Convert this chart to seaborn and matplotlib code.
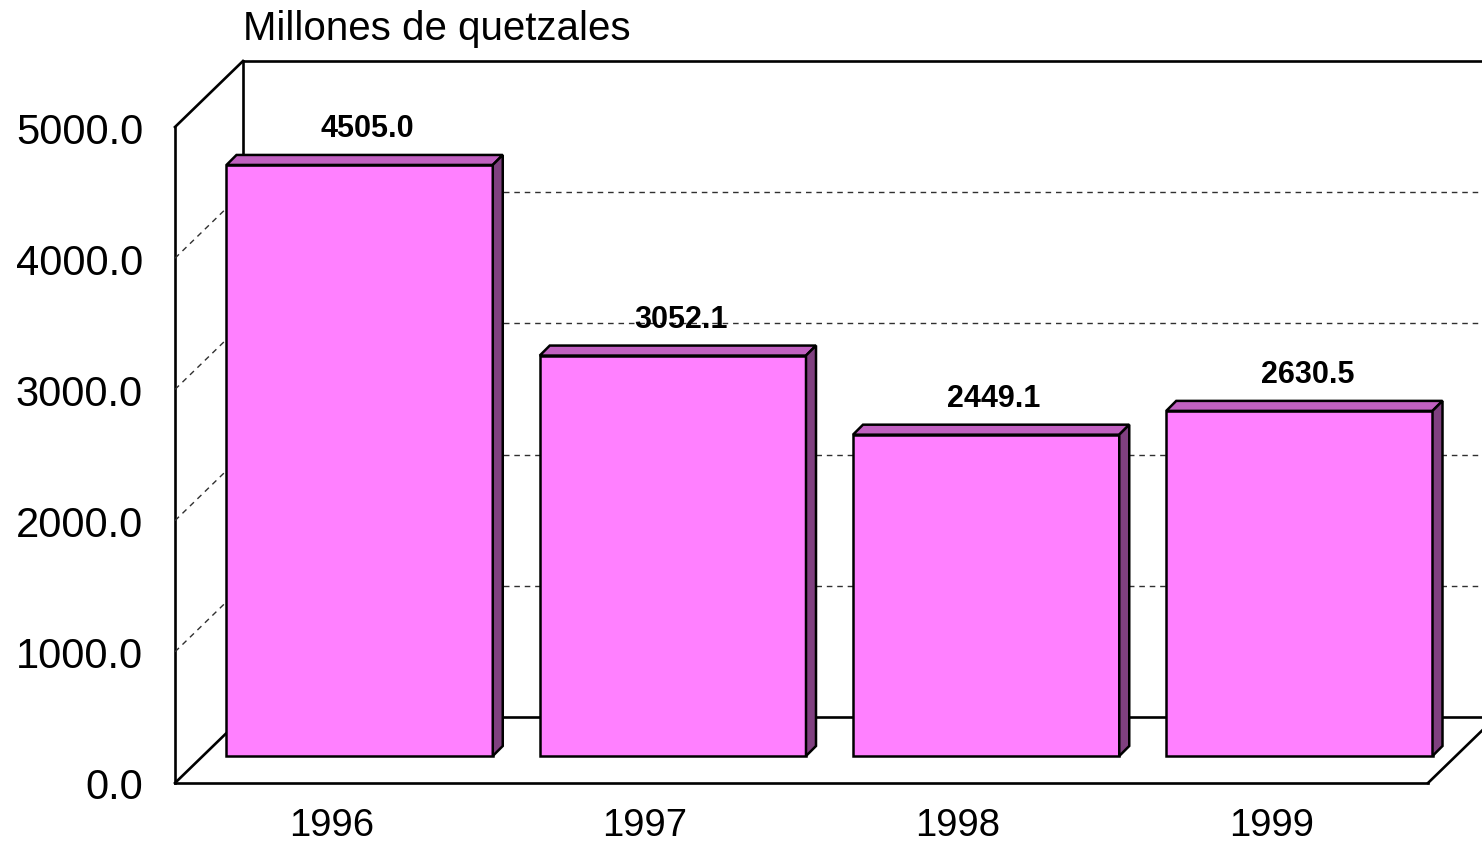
import matplotlib
matplotlib.use("Agg")
import matplotlib.pyplot as plt
import matplotlib.transforms as mtransforms
from matplotlib.patches import Polygon
from matplotlib.lines import Line2D
import seaborn as sns
import pandas as pd

# ---- data ----
years = ["1996", "1997", "1998", "1999"]
values = [4505.0, 3052.1, 2449.1, 2630.5]
y_ticks = [0, 1000, 2000, 3000, 4000, 5000]
title_text = "Millones de quetzales"

sns.set_theme(style="white")
plt.rcParams["font.family"] = ["Liberation Sans", "DejaVu Sans"]

W, H, DPI = 1482, 845, 100
fig = plt.figure(figsize=(W / DPI, H / DPI), dpi=DPI)
fig.patch.set_facecolor("white")

# front plane of the 3D box, in pixels
left_px, right_px, top_px, bottom_px = 175, 1428, 128, 784
ax = fig.add_axes([left_px / W, (H - bottom_px) / H,
                   (right_px - left_px) / W, (bottom_px - top_px) / H])
ax.set_facecolor("none")

df = pd.DataFrame({"year": years, "value": values})
sns.barplot(data=df, x="year", y="value", color="#FF80FF", width=0.85,
            edgecolor="black", linewidth=1.8, saturation=1, ax=ax, zorder=3)
ax.set_xlim(-0.5, 3.5)
ax.set_ylim(0, 5000)

# pixels per data unit
sx = (right_px - left_px) / 4.0
sy = (bottom_px - top_px) / 5000.0


def shift(px, py):
    return ax.transData + mtransforms.ScaledTranslation(px / DPI, py / DPI, fig.dpi_scale_trans)


# box depth (back wall offset), in data units
Dx, Dy = 68 / sx, 66 / sy
x0, x1 = -0.5, 3.5
frame_kw = dict(color="black", lw=1.9, clip_on=False, zorder=1, solid_capstyle="projecting")
grid_kw = dict(color="#303030", lw=1.0, ls=(0, (4, 3.5)), clip_on=False, zorder=1)

# front edges
ax.add_line(Line2D([x0, x0], [0, 5000], **frame_kw))
ax.add_line(Line2D([x0, x1], [0, 0], **frame_kw))
# diagonals
ax.add_line(Line2D([x0, x0 + Dx], [5000, 5000 + Dy], **frame_kw))
ax.add_line(Line2D([x0, x0 + Dx], [0, Dy], **frame_kw))
ax.add_line(Line2D([x1, x1 + Dx], [0, Dy], **frame_kw))
# back wall
ax.add_line(Line2D([x0 + Dx, x0 + Dx], [Dy, 5000 + Dy], **frame_kw))
ax.add_line(Line2D([x0 + Dx, x1 + Dx], [5000 + Dy, 5000 + Dy], **frame_kw))
ax.add_line(Line2D([x0 + Dx, x1 + Dx], [Dy, Dy], **frame_kw))
# gridlines
for v in y_ticks[1:-1]:
    ax.add_line(Line2D([x0, x0 + Dx], [v, v + Dy], **grid_kw))
    ax.add_line(Line2D([x0 + Dx, x1 + Dx], [v + Dy, v + Dy], **grid_kw))

# bars: shift the front faces into the box, add top and side faces
bdx, bdy = 28, 27
ddx, ddy = 10 / sx, 10 / sy
for p, v in zip(ax.patches, values):
    p.set_transform(shift(bdx, bdy))
    p.set_clip_on(False)
    bx0 = p.get_x()
    bx1 = bx0 + p.get_width()
    h = p.get_height()
    top = Polygon([(bx0, h), (bx1, h), (bx1 + ddx, h + ddy), (bx0 + ddx, h + ddy)],
                  closed=True, facecolor="#C060C0", edgecolor="black", lw=1.8,
                  transform=shift(bdx, bdy), clip_on=False, zorder=3, joinstyle="miter")
    side = Polygon([(bx1, 0), (bx1 + ddx, ddy), (bx1 + ddx, h + ddy), (bx1, h)],
                   closed=True, facecolor="#804080", edgecolor="black", lw=1.8,
                   transform=shift(bdx, bdy), clip_on=False, zorder=3, joinstyle="miter")
    ax.add_patch(top)
    ax.add_patch(side)
    ax.text(p.get_x() + p.get_width() / 2, h, f"{v:.1f}", transform=shift(bdx + 8, bdy + 29),
            ha="center", va="baseline", fontsize=22, fontweight="bold", color="black",
            clip_on=False, zorder=5)

# ticks
ax.set_yticks(y_ticks)
ax.set_yticklabels([f"{t:.1f}" for t in y_ticks])
ax.set_xticks(range(len(years)))
ax.set_xticklabels(years)
ax.tick_params(axis="y", length=0, pad=23, labelsize=30, labelcolor="black")
ax.tick_params(axis="x", length=0, pad=17, labelsize=27.5, labelcolor="black")
ax.set_xlabel("")
ax.set_ylabel("")
for s in ax.spines.values():
    s.set_visible(False)
ax.grid(False)

fig.text(243 / W, 1 - 40 / H, title_text, ha="left", va="baseline", fontsize=29, color="black")

fig.savefig("out.png", dpi=DPI, facecolor="white")
